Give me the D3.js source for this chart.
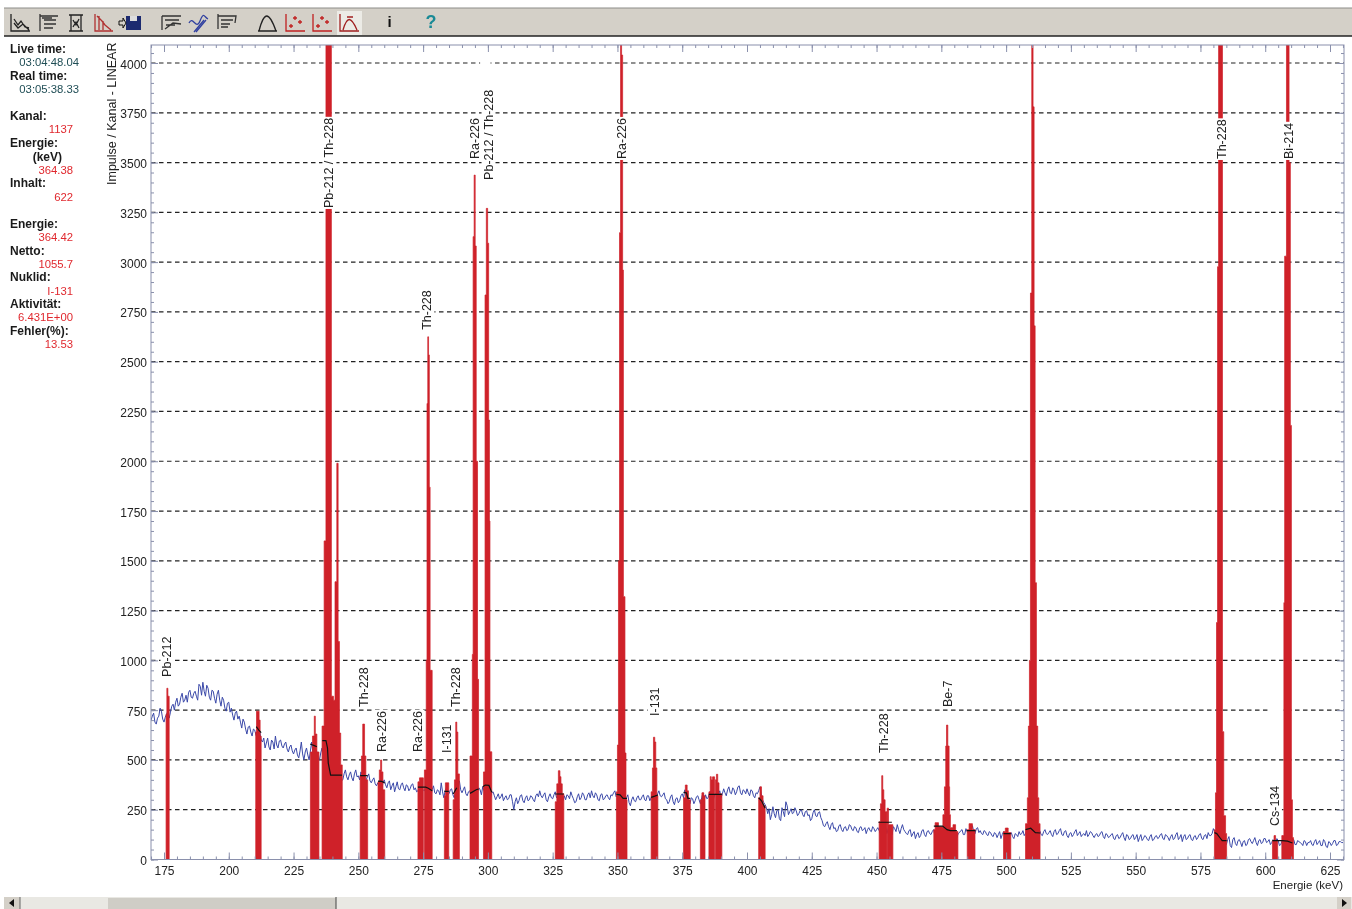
<!DOCTYPE html>
<html>
<head>
<meta charset="utf-8">
<script src="https://cdn.jsdelivr.net/npm/d3@7/dist/d3.min.js"></script>
<style>
  body { margin: 0; background: #fff; overflow: hidden; }
  svg { filter: blur(0.35px); }
  text { font-family: "Liberation Sans", Arial, sans-serif; }
  .axis path { display: none; }
  .axis line { stroke: #8a90ac; }
  .axis text { font-size: 12px; fill: #222; }
</style>
</head>
<body>
<script>
// spectrum, one value per keV from 170 keV on
var spectrumStart = 170;
var spectrum = [
  700,735,680,720,745,690,730,710,770,750,
  810,780,835,800,790,850,810,845,800,870,
  890,820,860,800,845,785,850,770,800,745,
  790,760,700,745,720,660,690,630,670,620,
  650,610,640,590,560,610,550,590,620,560,
  600,560,590,540,575,530,560,510,590,500,
  560,500,590,520,540,500,560,590,480,430,
  420,430,420,410,400,450,400,440,395,450,
  420,440,410,400,430,385,410,370,390,350,
  400,360,395,370,340,390,350,385,345,370,
  355,380,360,345,375,350,365,340,320,370,
  330,345,385,310,360,330,355,310,350,395,
  335,365,320,345,330,355,340,350,365,340,
  325,310,340,300,330,315,295,320,305,325,
  250,310,295,325,285,320,300,315,290,330,
  345,310,335,290,330,305,340,325,320,295,
  300,320,340,305,290,330,310,325,300,335,
  345,310,325,295,330,305,325,300,320,345,
  325,310,305,280,325,270,315,290,320,300,
  325,295,320,310,330,305,345,315,335,300,
  290,325,275,310,295,330,350,320,280,305,
  295,320,280,335,325,310,345,300,330,325,
  310,355,320,365,330,350,340,370,325,345,
  355,320,345,310,330,365,300,275,230,200,
  265,210,250,195,240,290,225,255,235,245,
  230,250,215,245,225,205,250,215,240,195,
  165,190,150,185,160,145,175,140,165,150,
  170,145,160,135,165,150,130,160,140,155,
  150,145,165,155,130,170,125,155,175,130,
  175,140,125,150,130,105,135,120,150,115,
  145,125,150,130,140,155,145,130,150,125,
  140,110,135,150,125,140,145,170,130,160,
  145,125,140,120,135,115,130,125,105,140,
  130,120,135,105,125,140,130,120,150,130,
  135,125,130,145,120,150,125,145,115,150,
  130,155,120,145,110,135,125,150,130,115,
  130,145,125,135,110,130,120,140,105,125,
  115,130,100,125,110,135,95,120,105,125,
  110,90,125,105,115,95,125,100,120,110,
  130,100,120,95,125,105,135,110,90,125,
  105,125,95,120,110,130,100,125,135,120,
  155,130,110,95,105,75,115,60,110,70,
  100,65,95,75,105,80,110,70,100,85,
  105,90,75,100,85,95,75,90,85,95,
  85,100,75,90,80,95,70,85,75,90,
  75,95,70,90,60,85,80,95,75,90,
  85
];
// the channels half a keV further on
var spectrumHalf = [
  720,690,710,760,705,715,745,740,780,790,
  770,815,790,825,840,815,835,820,880,825,
  845,875,815,850,810,830,800,815,760,785,
  740,725,735,705,690,705,655,665,640,655,
  625,625,600,610,585,565,600,555,575,595,
  570,580,555,565,545,550,525,545,530,540,
  525,545,530,555,505,535,525,530,460,425,
  435,415,435,395,430,415,425,410,430,415,
  400,425,395,415,395,400,380,385,365,385,
  375,385,350,385,365,355,375,360,375,345,
  375,350,340,365,355,345,345,365,350,335,
  350,325,340,345,325,350,325,340,375,350,
  350,330,340,325,350,335,360,325,345,345,
  310,335,320,315,305,330,310,300,325,290,
  290,280,320,295,310,295,320,300,320,315,
  320,325,300,315,310,325,310,340,300,320,
  325,305,320,285,315,300,335,300,325,310,
  320,335,300,325,300,320,310,325,335,315,
  305,320,290,310,285,300,295,310,300,315,
  300,320,295,335,295,330,320,325,305,280,
  315,290,305,285,320,310,325,290,310,280,
  315,300,310,300,305,335,315,325,300,345,
  330,335,350,335,360,325,365,335,350,330,
  335,350,320,335,345,330,285,260,255,225,
  230,245,205,260,215,270,240,230,260,220,
  245,225,240,220,195,235,220,235,210,170,
  180,165,175,155,140,170,150,160,145,175,
  150,165,140,160,145,160,150,145,165,140,
  160,130,145,165,155,140,165,140,150,155,
  150,130,145,115,140,125,110,145,125,140,
  130,140,120,150,125,145,135,140,125,145,
  120,130,145,125,155,130,150,140,155,135,
  130,145,125,140,120,135,110,140,125,120,
  120,130,115,130,115,125,145,130,115,140,
  120,140,140,125,140,130,135,125,140,125,
  145,125,140,120,130,115,140,120,140,125,
  120,115,140,120,125,115,135,115,130,110,
  125,105,120,105,125,110,125,100,120,100,
  125,110,95,120,100,115,95,115,105,125,
  105,125,110,115,100,125,100,125,115,100,
  120,100,115,100,125,105,120,105,120,130,
  140,120,100,110,85,100,70,100,80,95,
  85,90,70,100,90,95,85,95,80,105,
  85,100,85,80,105,70,95,70,100,80,
  95,75,95,85,70,90,85,95,70,100,
  85,70,100,65,90,70,95,70,90,85
];

// marked peaks: bin edges in keV and the count of each bin
var peakEdges = [
  [175.8,176.1,176.5,177.0],
  [210.4,210.7,211.7,212.1,212.5],
  [231.5,232.3,233.0,233.4,234.0,234.8],
  [236.0,236.8,237.5,239.6,240.4,241.0,241.7,242.2,242.7,243.2,243.8],
  [250.7,251.2,251.7,252.4,252.9,253.6],
  [257.6,258.1,258.6,259.0,259.5,260.2],
  [273.0,273.6,275.1],
  [275.5,276.2,276.5,276.8,277.1,277.4,277.7,278.5],
  [283.2,283.6,284.9],
  [286.6,287.1,287.6,288.0,288.4,289.0],
  [293.1,294.0,294.3,294.7,295.1,295.5,296.0,296.4],
  [298.3,298.9,299.4,299.9,300.3,300.6,300.8,301.5],
  [326.0,326.6,327.2,327.8,328.2,328.7,329.3],
  [349.6,350.0,350.4,350.8,351.2,351.6,352.0,352.3,352.9,353.3,353.7],
  [363.0,363.5,363.9,364.4,364.8,365.2,365.6],
  [375.5,376.2,376.9,377.4,378.1],
  [382.0,382.6,383.3,383.8],
  [385.3,385.8,386.2,386.7,387.5],
  [387.8,388.2,388.7,389.2,390.3],
  [404.5,405.0,405.6,406.2,407.0],
  [451.0,451.5,452.0,452.4,452.8,453.3,454.0],
  [454.1,454.6,456.3],
  [472.1,472.6,473.9,475.6,476.2,476.7,477.0,477.5,478.0,478.2,478.5,479.5,480.5,481.4],
  [485.0,485.7,487.0,488.0],
  [499.0,499.7,500.8,501.8],
  [507.5,508.2,508.6,509.0,509.4,509.9,510.4,510.8,511.2,511.7,512.2,512.6,513.1],
  [580.4,580.8,581.2,581.6,582.0,583.5,584.0,584.7,585.1],
  [602.8,603.4,604.0,604.8],
  [606.4,607.2,607.5,608.2,609.2,609.7,610.1,610.5,610.9]
];
var peakCounts = [
  [730,860,820],
  [640,745,700,620],
  [540,620,720,630,540],
  [670,1600,5000,820,800,1395,1990,1095,635,475],
  [420,520,680,520,400],
  [390,450,500,440,350],
  [390,410],
  [450,1000,2290,2625,2534,1870,950],
  [320,385],
  [300,400,690,640,430],
  [520,1030,3128,3437,3081,2000,905],
  [440,2835,3270,3095,2207,1700,541],
  [290,380,446,416,380,330],
  [340,575,1500,3148,4600,4040,2960,1320,535,300],
  [340,460,614,590,460,320],
  [310,374,345,300],
  [300,335,320],
  [340,416,400,415],
  [400,428,385,330],
  [310,365,320,270],
  [190,280,421,350,300,240],
  [258,175],
  [150,185,165,225,365,570,675,570,365,225,160,175,140],
  [150,180,150],
  [140,158,135],
  [180,310,670,1000,2845,4400,3780,2680,1390,670,310,180],
  [150,335,1190,2977,4800,642,220,130],
  [95,120,95],
  [120,1290,3030,5000,3500,2180,300,110]
];

// fitted background under each peak (black)
var fitEnergies = [
  [210.6,211.6,212.5],
  [231.4,233.0,234.0],
  [236.1,237.5,238.1,238.4,239.3,243.7],
  [250.7,253.6],
  [257.6,259.0,260.2],
  [273.0,276.0,277.0,278.5],
  [283.2,284.9],
  [286.6,288.0],
  [293.1,295.5,296.4],
  [298.0,299.0,300.4,301.5],
  [326.0,329.3],
  [349.6,351.0,352.2,353.7],
  [363.0,364.4,365.6],
  [375.5,376.6,377.2,378.1],
  [385.3,390.3],
  [404.5,405.6,407.0],
  [450.7,455.9],
  [472.1,475.5,477.2,478.5,481.0],
  [484.8,488.2],
  [499.0,501.8],
  [507.5,509.5,511.3,513.1],
  [580.4,581.3,582.6,583.4,585.1],
  [602.8,606.5,608.6,610.5]
];
var fitCounts = [
  [667,650,637],
  [580,572,566],
  [597,597,560,484,424,424],
  [421,421],
  [394,392,384],
  [363,363,358,345],
  [342,342],
  [329,360],
  [332,350,354],
  [365,374,372,337],
  [329,329],
  [327,325,307,307],
  [312,318,324],
  [337,335,307,307],
  [327,327],
  [310,295,258],
  [187,187],
  [168,168,150,145,145],
  [145,145],
  [130,130],
  [150,157,135,133],
  [135,130,108,95,95],
  [95,95,92,83]
];

// nuclide labels: text, energy of the peak, count where the text starts
var labelNames = ["Pb-212","Pb-212 / Th-228","Th-228","Ra-226","Ra-226","I-131","Th-228","Th-228","Ra-226","Pb-212 / Th-228","Ra-226","I-131","Th-228","Be-7","Th-228","Bi-214","Cs-134"];
var labelEnergies = [176.2,238.7,252.2,258.8,272.7,283.9,287.7,276.5,294.7,300.1,351.8,364.2,452.6,477.3,583.1,609,603.6];
var labelCounts = [917,3272,766,540,540,535,766,2660,3518,3413,3518,721,535,766,3518,3518,168];

// breaks in the grid lines left by hidden labels: from keV, to keV, at count
var gapFrom = [297, 601];
var gapTo = [301, 607];
var gapCount = [4000, 750];

// info panel on the left
var infoHeads = ["Live time:","Real time:","Kanal:","Energie:","Inhalt:","Energie:","Netto:","Nuklid:","Aktivität:","Fehler(%):"];
var infoHeadRows = [49,76,116,143,183,224,250.5,277,304,331];
var infoValues = ["03:04:48.04","03:05:38.33","1137","364.38","622","364.42","1055.7","I-131","6.431E+00","13.53"];
var infoValueRows = [62,89,129.5,170,197,237,264,291,317.5,344.5];

var xMajor = d3.range(175, 626, 25), xMinor = d3.range(170, 631, 5);
var yMajor = d3.range(0, 4001, 250), yMinor = d3.range(0, 4051, 50);

var width = 1352, height = 909;
var margin = {top: 45, right: 8, bottom: 49.5, left: 151};

var x = d3.scaleLinear().domain([175, 625]).range([164, 1330]);
var y = d3.scaleLinear().domain([0, 4000]).range([859.5, 63]);

var svg = d3.select("body").append("svg")
    .attr("width", width)
    .attr("height", height)
    .style("display", "block");

svg.append("clipPath").attr("id", "plot")
  .append("rect")
    .attr("x", margin.left).attr("y", margin.top)
    .attr("width", width - margin.left - margin.right)
    .attr("height", height - margin.top - margin.bottom);

// grid
svg.append("g").selectAll("line")
    .data(yMajor.slice(1))
  .enter().append("line")
    .attr("x1", margin.left).attr("x2", width - margin.right)
    .attr("y1", function(d) { return y(d); })
    .attr("y2", function(d) { return y(d); })
    .attr("stroke", "#222")
    .attr("stroke-width", 1.2)
    .attr("stroke-dasharray", "4.5,3.5");

svg.append("g").selectAll("rect")
    .data(gapFrom)
  .enter().append("rect")
    .attr("x", function(d) { return x(d); })
    .attr("y", function(d, i) { return y(gapCount[i]) - 2; })
    .attr("width", function(d, i) { return x(gapTo[i]) - x(d); })
    .attr("height", 4)
    .attr("fill", "#fff");

var plot = svg.append("g").attr("clip-path", "url(#plot)");

var line = d3.line()
    .x(function(d) { return x(d[0]); })
    .y(function(d) { return y(d[1]); });

var channels = [];
spectrum.forEach(function(d, i) {
  channels.push([spectrumStart + i, d]);
  if (i < spectrumHalf.length) channels.push([spectrumStart + i + 0.5, spectrumHalf[i]]);
});

plot.append("path")
    .datum(channels)
    .attr("d", line)
    .attr("fill", "none")
    .attr("stroke", "#3a48a8")
    .attr("stroke-width", 1);

var area = d3.area()
    .curve(d3.curveStepAfter)
    .x(function(d) { return x(d[0]); })
    .y0(y(0))
    .y1(function(d) { return y(d[1]); });

plot.selectAll(".peak")
    .data(peakEdges)
  .enter().append("path")
    .attr("class", "peak")
    .attr("fill", "#cf2129")
    .attr("stroke", "#cf2129")
    .attr("stroke-width", 0.7)
    .attr("d", function(edges, i) {
      var c = peakCounts[i];
      return area(edges.map(function(e, j) { return [e, j < c.length ? c[j] : c[c.length - 1]]; }));
    });

plot.selectAll(".fit")
    .data(fitEnergies)
  .enter().append("path")
    .attr("class", "fit")
    .attr("fill", "none")
    .attr("stroke", "#111")
    .attr("stroke-width", 1.2)
    .attr("d", function(es, i) {
      return line(es.map(function(e, j) { return [e, fitCounts[i][j]]; }));
    });

// frame and ticks
svg.append("rect")
    .attr("x", margin.left).attr("y", margin.top)
    .attr("width", width - margin.left - margin.right)
    .attr("height", height - margin.top - margin.bottom)
    .attr("fill", "none")
    .attr("stroke", "#8a90ac");

function ticks(axis, size, labels) {
  return axis.tickSize(size).tickSizeOuter(0).tickFormat(labels ? d3.format("d") : "");
}

var bottom = margin.top + (height - margin.top - margin.bottom);
var right = width - margin.right;

[[xMinor, 3, false], [xMajor, 7, true]].forEach(function(t) {
  svg.append("g").attr("class", "axis")
      .attr("transform", "translate(0," + bottom + ")")
      .call(ticks(d3.axisBottom(x).tickValues(t[0]), -t[1], t[2]))
      .selectAll("text").attr("y", 7).attr("dy", "0.71em");
  svg.append("g").attr("class", "axis")
      .attr("transform", "translate(0," + margin.top + ")")
      .call(ticks(d3.axisTop(x).tickValues(t[0]), -t[1], false));
});

[[yMinor, 3, false], [yMajor, 7, true]].forEach(function(t) {
  svg.append("g").attr("class", "axis")
      .attr("transform", "translate(" + margin.left + ",0)")
      .call(ticks(d3.axisLeft(y).tickValues(t[0]), -t[1], t[2]))
      .selectAll("text").attr("x", -4).attr("dy", "0.42em");
  svg.append("g").attr("class", "axis")
      .attr("transform", "translate(" + right + ",0)")
      .call(ticks(d3.axisRight(y).tickValues(t[0]), -t[1], false));
});

svg.append("text")
    .attr("transform", "translate(116,185) rotate(-90)")
    .style("font-size", "12.5px").attr("fill", "#222")
    .text("Impulse / Kanal - LINEAR");

svg.append("text")
    .attr("x", 1343).attr("y", 889)
    .attr("text-anchor", "end")
    .style("font-size", "11.5px").attr("fill", "#222")
    .text("Energie (keV)");

// nuclide labels, white box knocks out the grid and the peak behind them
var labels = svg.append("g").selectAll("g")
    .data(labelNames)
  .enter().append("g")
    .attr("transform", function(d, i) {
      return "translate(" + x(labelEnergies[i]) + "," + y(labelCounts[i]) + ") rotate(-90)";
    });

labels.append("text")
    .attr("dy", "0.35em")
    .style("font-size", "12.5px")
    .attr("fill", "#222")
    .text(function(d) { return d; });

labels.insert("rect", "text")
    .attr("fill", "#fff")
    .each(function() {
      var b = this.parentNode.querySelector("text").getBBox();
      d3.select(this)
          .attr("x", b.x - 1).attr("y", b.y)
          .attr("width", b.width + 2).attr("height", b.height);
    });

// info panel
svg.append("g").selectAll("text")
    .data(infoHeads)
  .enter().append("text")
    .attr("x", 10)
    .attr("y", function(d, i) { return infoHeadRows[i]; })
    .attr("dy", "0.35em")
    .style("font-size", "12px").style("font-weight", "bold")
    .attr("fill", "#1a1a1a")
    .text(function(d) { return d; });

svg.append("text")
    .attr("x", 62).attr("y", 156.5).attr("dy", "0.35em")
    .attr("text-anchor", "end")
    .style("font-size", "12px").style("font-weight", "bold")
    .attr("fill", "#1a1a1a")
    .text("(keV)");

svg.append("g").selectAll("text")
    .data(infoValues)
  .enter().append("text")
    .attr("x", function(d, i) { return i < 2 ? 79 : 73; })
    .attr("y", function(d, i) { return infoValueRows[i]; })
    .attr("dy", "0.35em")
    .attr("text-anchor", "end")
    .style("font-size", "11.3px")
    .attr("fill", function(d, i) { return i < 2 ? "#1f4d55" : "#e0282e"; })
    .text(function(d) { return d; });

// toolbar
var bar = svg.append("g");
bar.append("rect").attr("x", 4).attr("y", 8).attr("width", 1348).attr("height", 28).attr("fill", "#d4d0c8");
bar.append("line").attr("x1", 4).attr("x2", 1352).attr("y1", 8).attr("y2", 8).attr("stroke", "#8c8c88");
bar.append("line").attr("x1", 4).attr("x2", 1352).attr("y1", 36).attr("y2", 36).attr("stroke", "#222").attr("stroke-width", 1.5);
bar.append("rect").attr("x", 337).attr("y", 11).attr("width", 25).attr("height", 24).attr("fill", "#ecebe6");

var iconLeft = [10, 38, 67, 94, 161, 188, 216, 257, 285, 312, 339];
var iconPaths = [
  "M1 1V18H20M4 6L8 12L11 8L15 14L19 15M4 10L8 15L13 11L19 17",
  "M2 1V18M2 3H20M6 7H18M6 11H18M6 15H15M4 5H14",
  "M2 2H16M2 18H16M4 2V18M14 2V18M6 7L9 12L12 6M6 14L9 9L12 15",
  "M1 1V18H19M3 3L8 8L11 12L17 17M5 3V17M9 8V17",
  "M1 3H20M1 3V17M4 7H18M4 16L12 10L20 11M5 12H14",
  "M1 10C5 2 8 18 12 8S16 4 20 6M6 19L16 7M8 19L18 7",
  "M2 1V16M2 3H20L19 10M5 7H17M5 11H14M5 14H12",
  "M1 18H20M2 18C7 -2 12 -2 19 18",
  "M1 1V18H20M4 13H8M6 11V15M8 5H12M10 3V7M13 9H17M15 7V11",
  "M1 1V18H20M4 13H8M6 11V15M8 5H12M10 3V7M13 9H17M15 7V11",
  "M1 1V18H20M4 17C8 3 12 3 18 17M8 4H14"
];
var iconColors = ["#222", "#333", "#222", "#b03030", "#333", "#3040a0", "#333", "#222", "#c02020", "#c02020", "#a02020"];

bar.selectAll(".icon")
    .data(iconPaths)
  .enter().append("path")
    .attr("class", "icon")
    .attr("transform", function(d, i) { return "translate(" + iconLeft[i] + ",13)"; })
    .attr("d", function(d) { return d; })
    .attr("fill", "none")
    .attr("stroke", function(d, i) { return iconColors[i]; })
    .attr("stroke-width", 1.3);

bar.append("rect").attr("x", 126).attr("y", 16).attr("width", 15).attr("height", 14).attr("fill", "#1c2a70");
bar.append("rect").attr("x", 130).attr("y", 16).attr("width", 7).attr("height", 5).attr("fill", "#ddd");
bar.append("path").attr("d", "M119 21H123V18L126 23L123 28V25H119Z").attr("fill", "none").attr("stroke", "#111");

bar.append("text").attr("x", 389.5).attr("y", 27).attr("text-anchor", "middle")
    .style("font-size", "15px").style("font-weight", "bold").attr("fill", "#111").text("i");
bar.append("text").attr("x", 431).attr("y", 28).attr("text-anchor", "middle")
    .style("font-size", "18px").style("font-weight", "bold").attr("fill", "#1a8a96").text("?");

// scrollbar
var scroll = svg.append("g");
scroll.append("rect").attr("x", 4).attr("y", 897).attr("width", 1348).attr("height", 12).attr("fill", "#e9e8e3");
scroll.append("rect").attr("x", 108).attr("y", 898).attr("width", 228).attr("height", 11).attr("fill", "#cfcdc6");
scroll.append("line").attr("x1", 336).attr("x2", 336).attr("y1", 897).attr("y2", 909).attr("stroke", "#444");
scroll.append("rect").attr("x", 4).attr("y", 897).attr("width", 16).attr("height", 12).attr("fill", "#d4d0c8");
scroll.append("line").attr("x1", 20).attr("x2", 20).attr("y1", 897).attr("y2", 909).attr("stroke", "#666");
scroll.append("path").attr("d", "M14 899V907L9 903Z").attr("fill", "#111");
scroll.append("rect").attr("x", 1337).attr("y", 897).attr("width", 14).attr("height", 12).attr("fill", "#d4d0c8");
scroll.append("path").attr("d", "M1342 899V907L1347 903Z").attr("fill", "#111");
</script>
</body>
</html>
